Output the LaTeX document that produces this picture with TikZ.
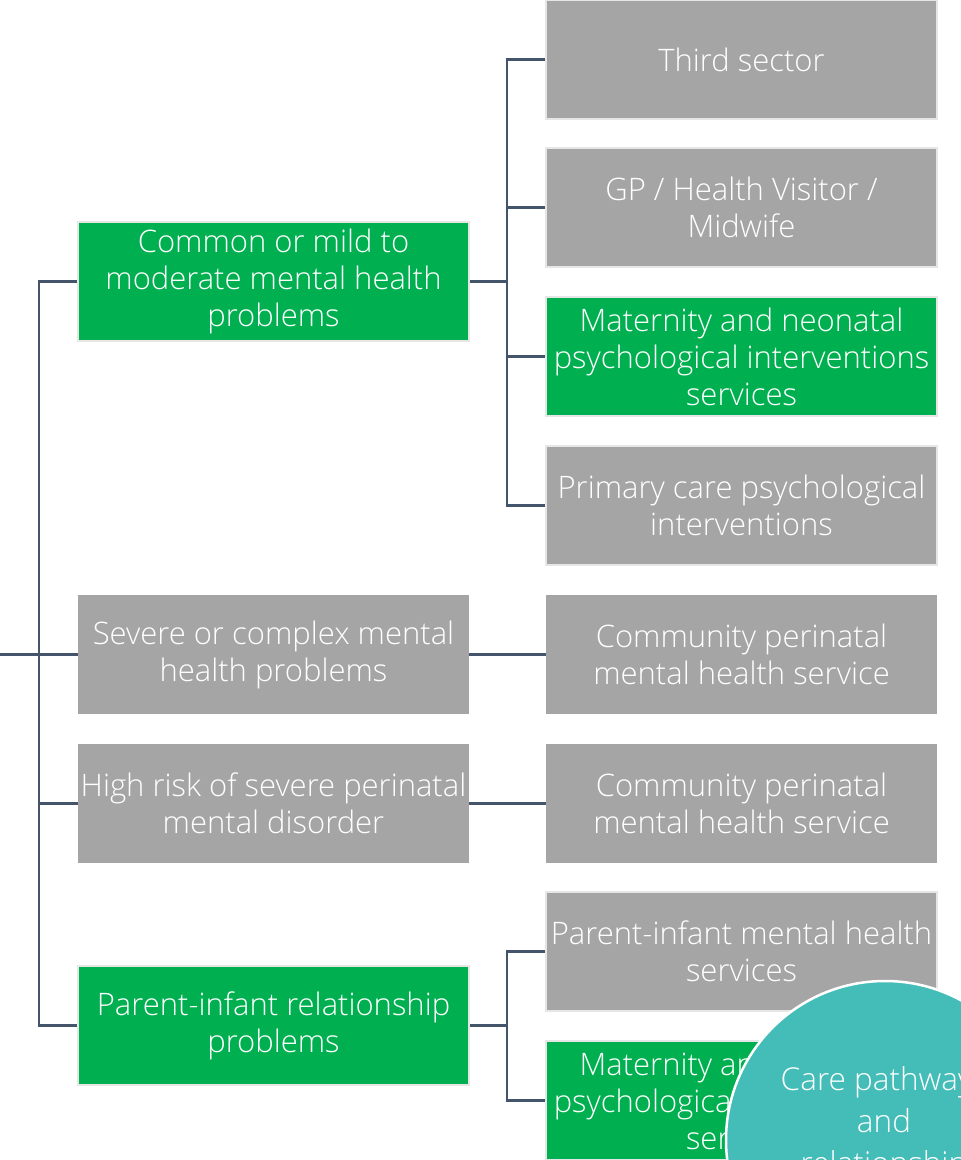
\documentclass[tikz,border=0pt]{standalone}
\usepackage{fontspec}
\IfFontExistsTF{Open Sans Light}{\setmainfont{Open Sans Light}}{\setmainfont{Open Sans}}
\definecolor{boxgray}{HTML}{A5A5A5}
\definecolor{boxgreen}{HTML}{00B050}
\definecolor{boxedge}{HTML}{E6E6E6}
\definecolor{linkc}{HTML}{44546A}
\definecolor{tealc}{HTML}{44BDB8}
\tikzset{
  basebox/.style={rectangle, minimum width=391pt, minimum height=119pt, inner sep=0pt,
    text=white, align=center, font=\fontsize{31}{37}\selectfont},
  graybox/.style={basebox, fill=boxgray},
  greenbox/.style={basebox, fill=boxgreen},
  edged/.style={draw=boxedge, line width=2.5pt},
  link/.style={draw=linkc, line width=2.5pt},
}
\begin{document}
\begin{tikzpicture}[x=1pt,y=-1pt]
\useasboundingbox (0,0) rectangle (961,1160);
\clip (0,0) rectangle (961,1160);
% right column
\node[graybox, edged] (third) at (741.5,59.5) {Third sector};
\node[graybox, edged] (gp) at (741.5,207.5) {GP / Health Visitor /\\Midwife};
\node[greenbox, edged] (mat) at (741.5,356.5) {Maternity and neonatal\\psychological interventions\\services};
\node[graybox, edged] (prim) at (741.5,505.5) {Primary care psychological\\interventions};
\node[graybox] (comm1) at (741.5,654.5) {Community perinatal\\mental health service};
\node[graybox] (comm2) at (741.5,803.5) {Community perinatal\\mental health service};
\node[graybox, edged] (pims) at (741.5,951.5) {Parent-infant mental health\\services};
\node[greenbox, edged] (mat2) at (741.5,1100.5) {Maternity and neonatal\\psychological interventions\\services};
% left column
\node[greenbox, edged] (common) at (273.5,281.5) {Common or mild to\\moderate mental health\\problems};
\node[graybox] (severe) at (273.5,654.5) {Severe or complex mental\\health problems};
\node[graybox] (high) at (273.5,803.5) {High risk of severe perinatal\\mental disorder};
\node[greenbox, edged] (pir) at (273.5,1025.5) {Parent-infant relationship\\problems};
% connectors
\coordinate (src) at (0,654.5);
\coordinate (trunk) at (39,654.5);
\coordinate (j1) at (507,281.5);
\coordinate (j2) at (507,1025.5);
\draw[link] (src) -- (trunk);
\draw[link] (trunk) |- (common.west);
\draw[link] (trunk) |- (pir.west);
\draw[link] (trunk) -- (severe.west);
\draw[link] (trunk) |- (high.west);
\draw[link] (common.east) -- (j1);
\draw[link] (j1) |- (third.west);
\draw[link] (j1) |- (gp.west);
\draw[link] (j1) |- (mat.west);
\draw[link] (j1) |- (prim.west);
\draw[link] (severe.east) -- (comm1.west);
\draw[link] (high.east) -- (comm2.west);
\draw[link] (pir.east) -- (j2);
\draw[link] (j2) |- (pims.west);
\draw[link] (j2) |- (mat2.west);
% circle
\node[circle, fill=tealc, draw=white, line width=2.5pt, minimum size=318pt, inner sep=0pt] (circ) at (885,1140) {};
\node[text=white, align=center, font=\fontsize{31.5}{42}\selectfont] (circtext) at (884,1124) {Care pathways\\and\\relationship};
\end{tikzpicture}
\end{document}
